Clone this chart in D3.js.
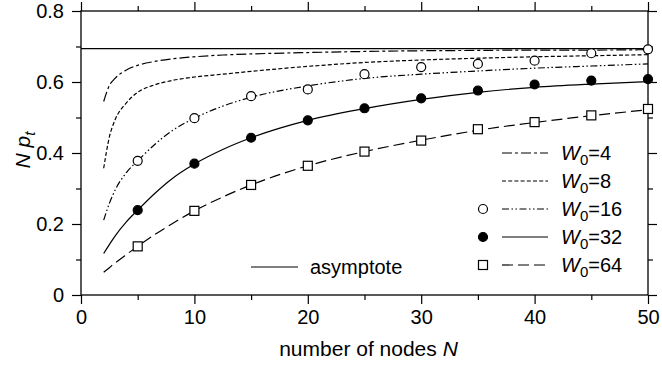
<!DOCTYPE html>
<html>
<head>
<meta charset="utf-8">
<script src="https://cdn.jsdelivr.net/npm/d3@7"></script>
<style>
  body { margin: 0; background: #fff; }
  svg { display: block; font-family: "Liberation Sans", Arial, sans-serif; }
</style>
</head>
<body>
<div id="chart"></div>
<script>
// node counts at which the analytic curves were read
const curveN = [2, 2.5, 3, 4, 5, 6.5, 8, 10, 12.5, 15, 20, 25, 30, 35, 40, 45, 50];

// N p_t, one array per W0
const curveW4  = [0.545, 0.590, 0.610, 0.634, 0.647, 0.658, 0.665, 0.671, 0.676, 0.679, 0.683, 0.686, 0.688, 0.689, 0.690, 0.690, 0.691];
const curveW8  = [0.357, 0.445, 0.493, 0.541, 0.571, 0.592, 0.604, 0.614, 0.622, 0.630, 0.644, 0.655, 0.662, 0.667, 0.671, 0.674, 0.677];
const curveW16 = [0.211, 0.258, 0.295, 0.345, 0.378, 0.424, 0.462, 0.498, 0.532, 0.557, 0.589, 0.610, 0.622, 0.631, 0.639, 0.645, 0.651];
const curveW32 = [0.117, 0.142, 0.166, 0.206, 0.239, 0.286, 0.327, 0.369, 0.410, 0.443, 0.492, 0.525, 0.551, 0.571, 0.585, 0.594, 0.601];
const curveW64 = [0.064, 0.077, 0.090, 0.114, 0.137, 0.170, 0.200, 0.237, 0.276, 0.310, 0.364, 0.404, 0.436, 0.464, 0.486, 0.505, 0.522];

// simulated points
const pointN = [5, 10, 15, 20, 25, 30, 35, 40, 45, 50];
const pointW16 = [0.378, 0.498, 0.560, 0.579, 0.622, 0.642, 0.651, 0.660, 0.681, 0.692];
const pointW32 = [0.239, 0.370, 0.443, 0.492, 0.526, 0.554, 0.576, 0.593, 0.604, 0.608];
const pointW64 = [0.137, 0.237, 0.310, 0.364, 0.404, 0.435, 0.467, 0.487, 0.506, 0.524];

const asymptote = 0.694;

const xMajor = [0, 10, 20, 30, 40, 50];
const xMinor = [5, 15, 25, 35, 45];
const yMajor = [0, 0.2, 0.4, 0.6, 0.8];
const yMinor = [0.1, 0.3, 0.5, 0.7];

const seriesLabels = ["4", "8", "16", "32", "64"];

const width = 662, height = 367;
const margin = { top: 11, right: 14, bottom: 72, left: 81 };
const iw = width - margin.left - margin.right;
const ih = height - margin.top - margin.bottom;

const svg = d3.select("#chart").append("svg")
  .attr("width", width)
  .attr("height", height);

const g = svg.append("g").attr("transform", `translate(${margin.left},${margin.top})`);

const x = d3.scaleLinear().domain([0, 50]).range([0, iw]);
const y = d3.scaleLinear().domain([0, 0.8]).range([ih, 0]);

// axes: major ticks long, minor short, all pointing outward
function styleAxis(sel) {
  sel.select(".domain").attr("stroke", "#000").attr("stroke-width", 1.3);
  sel.selectAll(".tick line").attr("stroke", "#000").attr("stroke-width", 1.2);
  sel.selectAll("text").attr("fill", "#000").style("font-size", "20px")
    .style("font-family", "'Liberation Sans', Arial, sans-serif");
}

const fmtY = (d) => (d === 0 ? "0" : d3.format(".1f")(d));

g.append("g").attr("transform", `translate(0,${ih})`)
  .call(d3.axisBottom(x).tickValues(xMajor).tickSize(9).tickPadding(6).tickFormat(d3.format("d")))
  .call(styleAxis);
g.append("g").attr("transform", `translate(0,${ih})`)
  .call(d3.axisBottom(x).tickValues(xMinor).tickSize(5).tickFormat(""))
  .call(styleAxis);
g.append("g")
  .call(d3.axisTop(x).tickValues(xMajor).tickSize(9).tickFormat(""))
  .call(styleAxis);
g.append("g")
  .call(d3.axisTop(x).tickValues(xMinor).tickSize(5).tickFormat(""))
  .call(styleAxis);

g.append("g")
  .call(d3.axisLeft(y).tickValues(yMajor).tickSize(9).tickPadding(8).tickFormat(fmtY))
  .call(styleAxis);
g.append("g")
  .call(d3.axisLeft(y).tickValues(yMinor).tickSize(5).tickFormat(""))
  .call(styleAxis);
g.append("g").attr("transform", `translate(${iw},0)`)
  .call(d3.axisRight(y).tickValues(yMajor).tickSize(9).tickFormat(""))
  .call(styleAxis);
g.append("g").attr("transform", `translate(${iw},0)`)
  .call(d3.axisRight(y).tickValues(yMinor).tickSize(5).tickFormat(""))
  .call(styleAxis);

g.selectAll(".domain").attr("d", null);
g.append("rect")
  .attr("x", 0).attr("y", 0).attr("width", iw).attr("height", ih)
  .attr("fill", "none").attr("stroke", "#000").attr("stroke-width", 1.3);

// asymptote
g.append("line")
  .attr("x1", 0).attr("x2", iw)
  .attr("y1", y(asymptote)).attr("y2", y(asymptote))
  .attr("stroke", "#000").attr("stroke-width", 1.2);

const dashes = ["10,3,3,3", "4,2.2", "7,2.5,1.5,2.5,1.5,2.5", null, "11,5"];
const curves = [curveW4, curveW8, curveW16, curveW32, curveW64];

const line = d3.line()
  .x((d) => x(d[0]))
  .y((d) => y(d[1]))
  .curve(d3.curveMonotoneX);

curves.forEach((vals, i) => {
  g.append("path")
    .datum(curveN.map((n, j) => [n, vals[j]]))
    .attr("d", line)
    .attr("fill", "none")
    .attr("stroke", "#000")
    .attr("stroke-width", 1.2)
    .attr("stroke-dasharray", dashes[i]);
});

// markers
function drawMarker(sel, kind, cx, cy) {
  if (kind === "square") {
    sel.append("rect")
      .attr("x", cx - 4.5).attr("y", cy - 4.5)
      .attr("width", 9).attr("height", 9)
      .attr("fill", "#fff").attr("stroke", "#000").attr("stroke-width", 1.2);
  } else {
    sel.append("circle")
      .attr("cx", cx).attr("cy", cy).attr("r", 4.5)
      .attr("fill", kind === "filled" ? "#000" : "#fff")
      .attr("stroke", "#000").attr("stroke-width", 1.2);
  }
}

const pointSets = [
  { vals: pointW16, kind: "open" },
  { vals: pointW32, kind: "filled" },
  { vals: pointW64, kind: "square" }
];
pointSets.forEach((s) => {
  const grp = g.append("g");
  pointN.forEach((n, j) => drawMarker(grp, s.kind, x(n), y(s.vals[j])));
});

// legend
const legend = svg.append("g").attr("transform", "translate(502,153)");
const rowH = 28;
const markerKinds = [null, null, "open", "filled", "square"];
seriesLabels.forEach((lab, i) => {
  const row = legend.append("g").attr("transform", `translate(0,${i * rowH})`);
  row.append("line")
    .attr("x1", 0).attr("x2", 46).attr("y1", 0).attr("y2", 0)
    .attr("stroke", "#000").attr("stroke-width", 1.2)
    .attr("stroke-dasharray", dashes[i]);
  if (markerKinds[i]) drawMarker(row, markerKinds[i], -19, 0);
  const t = row.append("text")
    .attr("x", 59).attr("y", 7)
    .style("font-size", "20px");
  t.append("tspan").attr("font-style", "italic").text("W");
  t.append("tspan").attr("dy", 5).style("font-size", "15px").text("0");
  t.append("tspan").attr("dy", -5).text("=" + lab);
});

const asy = svg.append("g").attr("transform", "translate(251,267)");
asy.append("line")
  .attr("x1", 0).attr("x2", 47).attr("y1", 0).attr("y2", 0)
  .attr("stroke", "#000").attr("stroke-width", 1.2);
asy.append("text").attr("x", 59).attr("y", 7)
  .style("font-size", "20px").text("asymptote");

// axis titles
const xt = svg.append("text")
  .attr("x", margin.left + iw / 2 + 4).attr("y", 356)
  .attr("text-anchor", "middle")
  .style("font-size", "21px");
xt.append("tspan").text("number of nodes ");
xt.append("tspan").attr("font-style", "italic").text("N");

const yt = svg.append("text")
  .attr("transform", `translate(30,${margin.top + ih / 2 - 3}) rotate(-90)`)
  .attr("text-anchor", "middle")
  .style("font-size", "21px");
yt.append("tspan").attr("font-style", "italic").text("N p");
yt.append("tspan").attr("font-style", "italic").attr("dy", 5).style("font-size", "15px").text("t");
</script>
</body>
</html>
